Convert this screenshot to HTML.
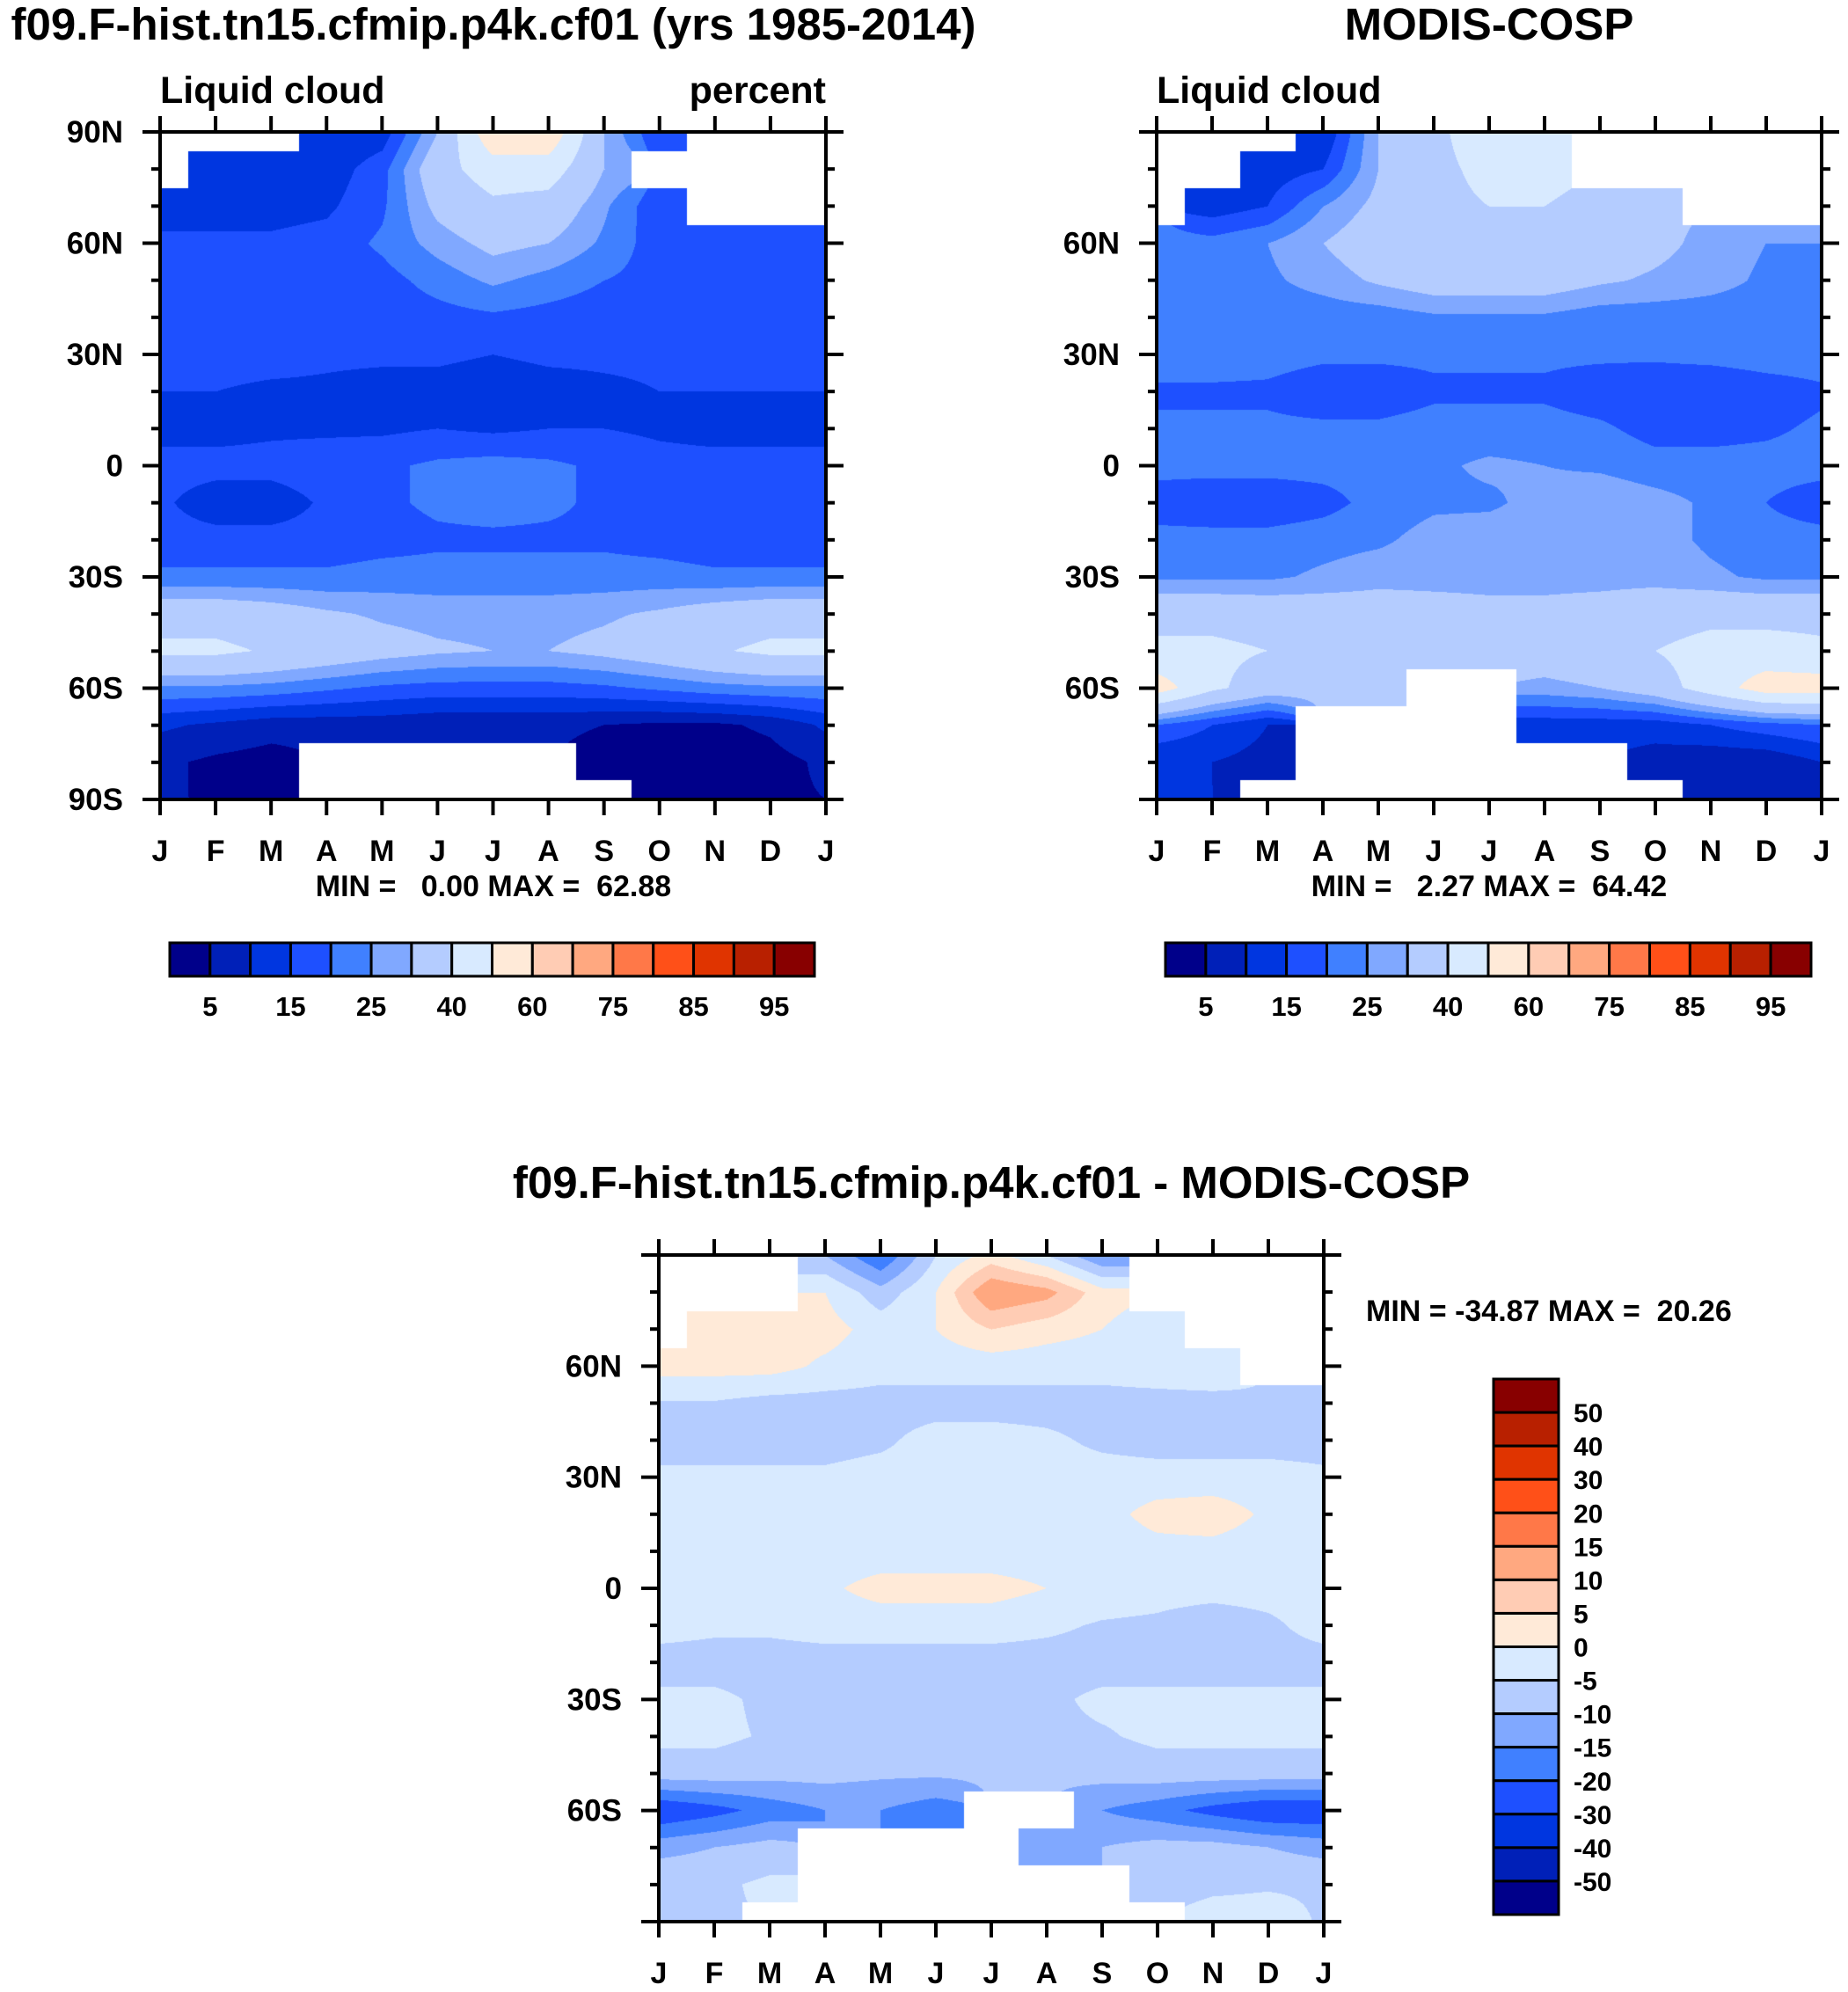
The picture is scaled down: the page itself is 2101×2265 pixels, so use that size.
<!DOCTYPE html>
<html><head><meta charset="utf-8">
<style>
html,body{margin:0;padding:0;background:#fff}
#wrap{position:relative;width:2101px;height:2265px;overflow:hidden;font-family:"Liberation Sans",Arial,sans-serif}
canvas{position:absolute}
svg{position:absolute;left:0;top:0}
text{font-family:"Liberation Sans",Arial,sans-serif;font-weight:bold;fill:#000}
</style></head>
<body>
<div id="wrap">
<canvas id="c1" style="left:182px;top:150px" width="757" height="759"></canvas>
<canvas id="c2" style="left:1315px;top:150px" width="756" height="759"></canvas>
<canvas id="c3" style="left:749px;top:1427px" width="756" height="758"></canvas>
<svg id="s" width="2101" height="2265"></svg>
</div>
<script>
const n = null;
const months = ["J","F","M","A","M","J","J","A","S","O","N","D","J"];
const latLabels = ["90N","60N","30N","0","30S","60S","90S"];
const levelsPct = [5,10,15,20,25,30,40,50,60,70,75,80,85,90,95];
const pctLabels = ["5","15","25","40","60","75","85","95"];
const levelsDiff = [-50,-40,-30,-20,-15,-10,-5,0,5,10,15,20,30,40,50];
const diffLabels = ["50","40","30","20","15","10","5","0","-5","-10","-15","-20","-30","-40","-50"];
const palette = ["#00008a","#0020b8","#0036e0","#1e50ff","#4080ff","#80a8ff","#b4ccff","#d8eaff","#ffead8","#ffccb4","#ffa880","#ff7848","#ff5018","#e03400","#b82000","#880000"];

// rows: 90N,80N,...,90S ; cols: J..J
const modelData = [
[n,n,n,10,12,30,58,58,30,15,n,n,n],
[n,12,12,12,18,36,45,45,30,n,n,n,n],
[13,13,13,14,19,32,38,36,26,16,n,n,n],
[16,16,16,17,21,27,32,30,24,17,16,16,16],
[17,17,17,17,18,22,26,23,20,18,17,17,17],
[17,17,17,17,17,18,19,18,17,17,17,17,17],
[17,17,17,16,16,16,15,16,16,16,17,17,17],
[15,15,14,14,13,13,12,13,14,15,15,15,15],
[13,13,14,14,14,15,14,15,15,14,13,13,13],
[17,17,17,18,19,21,22,21,19,17,17,17,17],
[16,12,12,16,19,21,22,21,19,18,18,18,16],
[17,17,17,17,18,19,19,19,19,18,17,17,17],
[21,21,21,21,22,22,22,22,22,22,21,21,21],
[36,36,34,31,29,28,28,28,29,31,34,36,36],
[42,42,39,36,33,31,30,30,32,35,39,42,42],
[24,24,23,21,19,18,18,18,19,21,23,24,24],
[11,9,7,7,7,6,6,6,5,4,4,6,11],
[6,4,3,n,n,n,n,n,3,2,2,3,6],
[5,5,5,n,n,n,n,n,n,3,3,4,5]];
const modisData = [
[n,n,n,10,30,38,45,45,n,n,n,n,n],
[n,n,12,15,30,38,42,42,n,n,n,n,n],
[n,12,15,25,32,38,40,40,38,32,n,n,n],
[22,22,25,30,35,38,38,36,35,32,28,25,25],
[24,24,24,27,31,34,34,34,31,29,27,24,24],
[22,22,22,22,22,24,24,24,22,22,22,22,22],
[23,23,22,21,21,21,21,21,21,21,22,23,23],
[19,19,19,17,17,19,19,19,17,16,15,17,19],
[21,21,21,21,21,22,22,22,21,18,18,19,21],
[22,22,22,22,22,24,26,25,24,22,22,22,22],
[17,16,16,18,22,24,24,27,29,27,24,20,17],
[22,22,22,23,24,27,28,28,28,27,24,22,22],
[24,24,24,26,28,28,28,28,28,28,26,24,24],
[37,37,36,35,34,33,32,32,33,35,37,37,37],
[42,42,40,38,37,36,35,35,37,40,44,44,42],
[55,42,35,32,30,n,n,28,30,35,45,55,55],
[20,15,10,n,n,n,n,12,12,12,15,18,20],
[10,10,8,n,n,n,n,n,n,8,6,6,10],
[10,10,n,n,n,n,n,n,n,n,5,6,10]];
const diffData = [
[n,n,n,-10,-20,-5,2,-5,-15,n,n,n,n],
[n,n,n,0,-8,0,15,12,2,n,n,n,n],
[n,2,2,2,-2,0,5,2,0,-3,n,n,n],
[2,2,2,-1,-3,-3,-3,-3,-3,-2,-1,n,n],
[-5.5,-5.5,-7,-7,-7,-7,-7,-7,-7,-7,-7,-5.5,-5.5],
[-7,-7,-7,-7,-6,-3,-3,-4,-6,-7,-7,-7,-7],
[-4,-4,-4,-4,-3,-3,-3,-3,-3,-3,-3,-3,-4],
[-3,-3,-3,-3,-3,-3,-3,-3,-2,2,3,-1,-3],
[-3,-3,-3,-3,-3,-3,-3,-3,-3,-2,-2,-3,-3],
[-3,-3,-3,-1,2,2,2,0,-2,-3,-3,-3,-3],
[-3,-4,-4,-3,-3,-3,-3,-4,-5.5,-6,-8,-6,-3],
[-7,-7,-7,-7,-7,-7,-7,-7,-7,-7,-7,-7,-7],
[-4,-4,-6,-6,-6,-6,-6,-6,-4,-4,-4,-4,-4],
[-4,-4,-5.5,-5.5,-6,-6,-6,-6,-5.5,-4,-4,-4,-4],
[-7,-7,-8,-8,-9,-9,-9,-9,-8,-7,-7,-7,-7],
[-25,-22,-18,-15,-15,-18,n,n,-15,-18,-22,-25,-25],
[-12,-10,-8,n,n,n,n,-12,-10,-8,-8,-10,-12],
[-5.5,-6,-4,n,n,n,n,n,n,-7,-6,-5.5,-5.5],
[-5.5,-5.5,n,n,n,n,n,n,n,n,-3,-3,-5.5]];

function colorFor(v, levels){
  let i=0; while(i<levels.length && v+0.001>=levels[i]) i++;
  return palette[i];
}
function hexRgb(h){return [parseInt(h.substr(1,2),16),parseInt(h.substr(3,2),16),parseInt(h.substr(5,2),16)];}
function drawField(id, data, levels){
  const cv=document.getElementById(id), ctx=cv.getContext('2d');
  const W=cv.width,H=cv.height, img=ctx.createImageData(W,H);
  const nr=data.length, nc=data[0].length;
  const xs = px => px/(W-1)*(nc-1);
  const ys = py => py/(H-1)*(nr-1);
  for(let py=0;py<H;py++){
    const fy=ys(py), r0=Math.min(Math.floor(fy),nr-2), ty=fy-r0;
    for(let px=0;px<W;px++){
      const fx=xs(px), c0=Math.min(Math.floor(fx),nc-2), tx=fx-c0;
      const nrI=Math.round(fy), ncI=Math.round(fx);
      let rgb=[255,255,255];
      if(data[nrI][ncI]!==null){
        const pts=[[r0,c0,(1-tx)*(1-ty)],[r0,c0+1,tx*(1-ty)],[r0+1,c0,(1-tx)*ty],[r0+1,c0+1,tx*ty]];
        let s=0,w=0;
        for(const p of pts){const v=data[p[0]][p[1]]; if(v!==null){s+=v*p[2];w+=p[2];}}
        const v = w>0? s/w : data[nrI][ncI];
        rgb=hexRgb(colorFor(v,levels));
      }
      const k=(py*W+px)*4; img.data[k]=rgb[0];img.data[k+1]=rgb[1];img.data[k+2]=rgb[2];img.data[k+3]=255;
    }
  }
  ctx.putImageData(img,0,0);
}
drawField('c1',modelData,levelsPct);
drawField('c2',modisData,levelsPct);
drawField('c3',diffData,levelsDiff);

const S=document.getElementById('s'), NS='http://www.w3.org/2000/svg';
function el(tag,attrs,parent){const e=document.createElementNS(NS,tag);for(const k in attrs)e.setAttribute(k,attrs[k]);(parent||S).appendChild(e);return e;}
function txt(x,y,s,size,anchor,name){
  const t=el('text',{x:x,y:y,'font-size':size,'text-anchor':anchor||'start'});
  
  
  t.textContent=s; return t;
}
function axes(x0,y0,w,h,showPoles,prefix){
  const g=el('g',{});
  
  
  el('rect',{x:x0,y:y0,width:w,height:h,fill:'none',stroke:'#000','stroke-width':4},g);
  for(let i=0;i<months.length;i++){
    const x=x0+i*w/12;
    el('line',{x1:x,y1:y0,x2:x,y2:y0-18,stroke:'#000','stroke-width':4},g);
    el('line',{x1:x,y1:y0+h,x2:x,y2:y0+h+18,stroke:'#000','stroke-width':4},g);
    txt(x,y0+h+70,months[i],34,'middle',prefix+'-month-label');
  }
  for(let j=0;j<=18;j++){
    const y=y0+j*h/18, major=j%3===0, L=major?20:10;
    el('line',{x1:x0-L,y1:y,x2:x0,y2:y,stroke:'#000','stroke-width':4},g);
    el('line',{x1:x0+w,y1:y,x2:x0+w+L,y2:y,stroke:'#000','stroke-width':4},g);
    if(major){const lab=latLabels[j/3]; if(showPoles || (j!==0 && j!==18)) txt(x0-42,y+12,lab,35,'end',prefix+'-lat-label');}
  }
}
axes(182,150,757,759,true,'model');
axes(1315,150,756,759,false,'modis');
axes(749,1427,756,758,false,'diff');
function hbar(x0,y0,w,h,prefix){
  const bw=w/16;
  for(let i=0;i<16;i++){
    const r=el('rect',{x:x0+i*bw,y:y0,width:bw,height:h,fill:palette[i],stroke:'#000','stroke-width':3});
    
    
  }
  for(let k=0;k<pctLabels.length;k++){
    txt(x0+(2*k+1)*bw,y0+h+45,pctLabels[k],31,'middle',prefix+'-colorbar-label');
  }
}
hbar(193,1072,733,38,'model');
hbar(1325,1072,734,38,'modis');
(function(){
  const x0=1698,y0=1568,w=74,h=609,bh=h/16;
  for(let i=0;i<16;i++){
    const r=el('rect',{x:x0,y:y0+i*bh,width:w,height:bh,fill:palette[15-i],stroke:'#000','stroke-width':3});
    
    
  }
  for(let k=0;k<diffLabels.length;k++) txt(x0+91,y0+(k+1)*bh+11,diffLabels[k],30,'start','diff-colorbar-label');
})();
txt(561,45,'f09.F-hist.tn15.cfmip.p4k.cf01 (yrs 1985-2014)',51,'middle','model-title');
txt(1693,45,'MODIS-COSP',51,'middle','modis-title');
txt(182,117,'Liquid cloud',43,'start','model-subtitle');
txt(939,117,'percent',43,'end','model-units');
txt(1315,117,'Liquid cloud',43,'start','modis-subtitle');
txt(561,1019,'MIN =   0.00 MAX =  62.88',34,'middle','model-minmax');
txt(1693,1019,'MIN =   2.27 MAX =  64.42',34,'middle','modis-minmax');
txt(1127,1362,'f09.F-hist.tn15.cfmip.p4k.cf01 - MODIS-COSP',51,'middle','diff-title');
txt(1553,1502,'MIN = -34.87 MAX =  20.26',34,'start','diff-minmax');
S.querySelectorAll('text').forEach(t=>t.setAttribute('style','white-space:pre'));
</script>
</body></html>
